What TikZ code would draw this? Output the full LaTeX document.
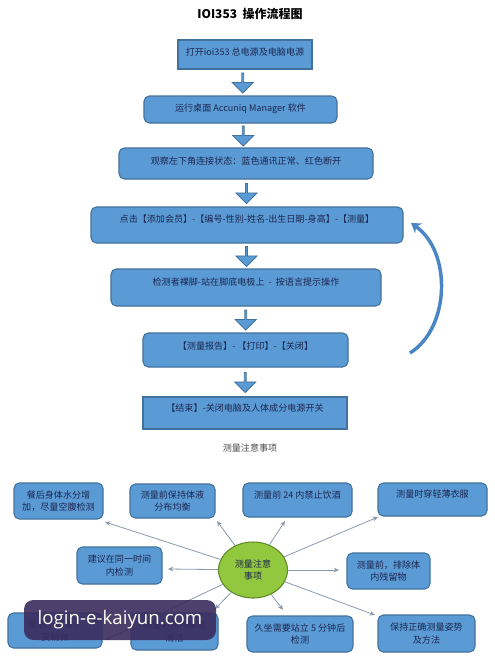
\documentclass[tikz,border=0pt]{standalone}
\usepackage{fontspec}
\setmainfont{Noto Sans CJK SC}
\newfontfamily\wmfont{Open Sans}
\usetikzlibrary{shapes.geometric,shapes.arrows,fit,calc,arrows.meta}
\definecolor{boxblue}{HTML}{5B9BD5}
\definecolor{boxline}{HTML}{41719C}
\definecolor{txt}{HTML}{1C2650}
\definecolor{ovgreen}{HTML}{92C83E}
\definecolor{ovline}{HTML}{5E8A2A}
\definecolor{connc}{HTML}{8C9AAE}
\definecolor{wmbg}{HTML}{3A2C5E}
\definecolor{loopc}{HTML}{4A86C5}
\begin{document}
\begin{tikzpicture}[x=0.75pt,y=-0.75pt,
  flowbox/.style={draw=boxline, line width=0.8pt, fill=boxblue, inner sep=0pt, rounded corners=4pt},
  sqbox/.style={flowbox, rounded corners=0pt},
  flowtext/.style={font=\fontsize{6.8pt}{8pt}\selectfont, text=txt},
  blockarrow/.style={single arrow, draw=boxline, line width=0.6pt, fill=boxblue, rotate=-90,
    minimum width=21*0.75pt, minimum height=20*0.75pt, single arrow head extend=4*0.75pt, inner sep=0pt},
  notebox/.style={draw=boxline, line width=0.8pt, fill=boxblue, rounded corners=4pt, inner sep=0pt},
  notetext/.style={font=\fontsize{6.8pt}{9.5pt}\selectfont, text=txt, align=center},
  connline/.style={draw=connc, line width=0.6pt, -{Stealth[length=4pt,width=3.5pt]}},
  looparrow/.style={draw=loopc, line width=2.6pt, -{Stealth[length=7pt,width=9pt]}},
]
\useasboundingbox (0,0) rectangle (494,664);
\fill[white] (0,0) rectangle (494,664);

% title
\node[font=\bfseries\fontsize{9pt}{10pt}\selectfont, text=black] (title) at (250,14) {IOI353\ \ 操作流程图};

% flow boxes
\node[sqbox, fit={(178,40) (312,69)}, label={[flowtext, yshift=1.5pt]center:打开ioi353 总电源及电脑电源}] (b1) {};
\node[flowbox, fit={(144,96) (337,123)}, label={[flowtext, yshift=0.5pt]center:运行桌面 Accuniq Manager 软件}] (b2) {};
\node[flowbox, fit={(119,148) (373,179)}, label={[flowtext, yshift=2pt]center:观察左下角连接状态：蓝色通讯正常、红色断开}] (b3) {};
\node[flowbox, fit={(91,207) (403,243)}, label={[flowtext, yshift=4.5pt]center:点击【添加会员】-【编号-性别-姓名-出生日期-身高】-【测量】}] (b4) {};
\node[flowbox, fit={(111,269) (381,306)}, label={[flowtext, yshift=4pt]center:检测者裸脚-站在脚底电极上\ \ -\ \ 按语言提示操作}] (b5) {};
\node[flowbox, fit={(143,333) (348,367)}, label={[flowtext, yshift=3pt]center:【测量报告】-\ 【打印】-【关闭】}] (b6) {};
\node[sqbox, fit={(143,397) (347,429)}, label={[flowtext, yshift=3.5pt]center:【结束】-关闭电脑及人体成分电源开关}] (b7) {};

% block arrows
\node[blockarrow] (a1) at ($(b1.south)!0.5!(b2.north)$) {};
\node[blockarrow] (a2) at ($(b2.south)!0.5!(b3.north)$) {};
\node[blockarrow] (a3) at ($(b3.south)!0.5!(b4.north)$) {};
\node[blockarrow] (a4) at ($(b4.south)!0.5!(b5.north)$) {};
\node[blockarrow] (a5) at ($(b5.south)!0.5!(b6.north)$) {};
\node[blockarrow] (a6) at ($(b6.south)!0.5!(b7.north)$) {};

% loop arrow
\coordinate (loopS) at (410,353);
\coordinate (loopE) at (411,223);
\draw[looparrow] (loopS) .. controls (450,328) and (452,252) .. (loopE);

% caption
\node[font=\fontsize{6.8pt}{8pt}\selectfont, text=black!70] (cap) at (250,448) {测量注意事项};

% notes
\node[notebox, fit={(14,483) (103,519)}, label={[notetext]center:餐后身体水分增\\加，尽量空腹检测}] (n1) {};
\node[notebox, fit={(130,484) (215,518)}, label={[notetext]center:测量前保持体液\\分布均衡}] (n2) {};
\node[notebox, fit={(243,483) (352,517)}, label={[notetext, yshift=4pt]center:测量前 24 内禁止饮酒}] (n3) {};
\node[notebox, fit={(378,483) (487,516)}, label={[notetext, yshift=4pt]center:测量时穿轻薄衣服}] (n4) {};
\node[notebox, fit={(77,547) (162,584)}, label={[notetext]center:建议在同一时间\\内检测}] (n5) {};
\node[notebox, fit={(347,553) (430,589)}, label={[notetext]center:测量前，排除体\\内残留物}] (n6) {};
\node[notebox, fit={(8,613) (102,648)}, label={[notetext]center:常温下测量，\\要稍微}] (n7) {};
\node[notebox, fit={(131,613) (218,650)}, label={[notetext]center:测量前保持脚底\\清洁}] (n8) {};
\node[notebox, fit={(247,616) (353,652)}, label={[notetext]center:久坐需要站立 5 分钟后\\检测}] (n9) {};
\node[notebox, fit={(378,615) (475,652)}, label={[notetext]center:保持正确测量姿势\\及方法}] (n10) {};

% centre ellipse
\node[ellipse, draw=ovline, line width=0.8pt, fill=ovgreen, minimum width=69*0.75pt, minimum height=56*0.75pt,
  inner sep=0pt, align=center, font=\fontsize{6.8pt}{9.5pt}\selectfont, text=txt] (ctr) at (253,570) {测量注意\\事项};

% connector ends
\coordinate (e1) at (105,522);
\coordinate (e2) at (217,521);
\coordinate (e3) at (285,521);
\coordinate (e4) at (378,517);
\coordinate (e5) at (168,569);
\coordinate (e6) at (339,570);
\coordinate (e7) at (105,640);
\coordinate (e8) at (215,609);
\coordinate (e9) at (283,610);
\coordinate (e10) at (375,615);
\foreach \i in {1,...,10} { \draw[connline] (ctr) -- (e\i); }

% watermark
\node[fill=wmbg, fill opacity=0.9, text opacity=1, rounded corners=7pt, inner sep=0pt,
  minimum width=192*0.75pt, minimum height=40*0.75pt, text=white!95!yellow,
  font=\wmfont\fontsize{14pt}{14pt}\selectfont] (wm) at (120,620) {login-e-kaiyun.com};
\end{tikzpicture}
\end{document}
